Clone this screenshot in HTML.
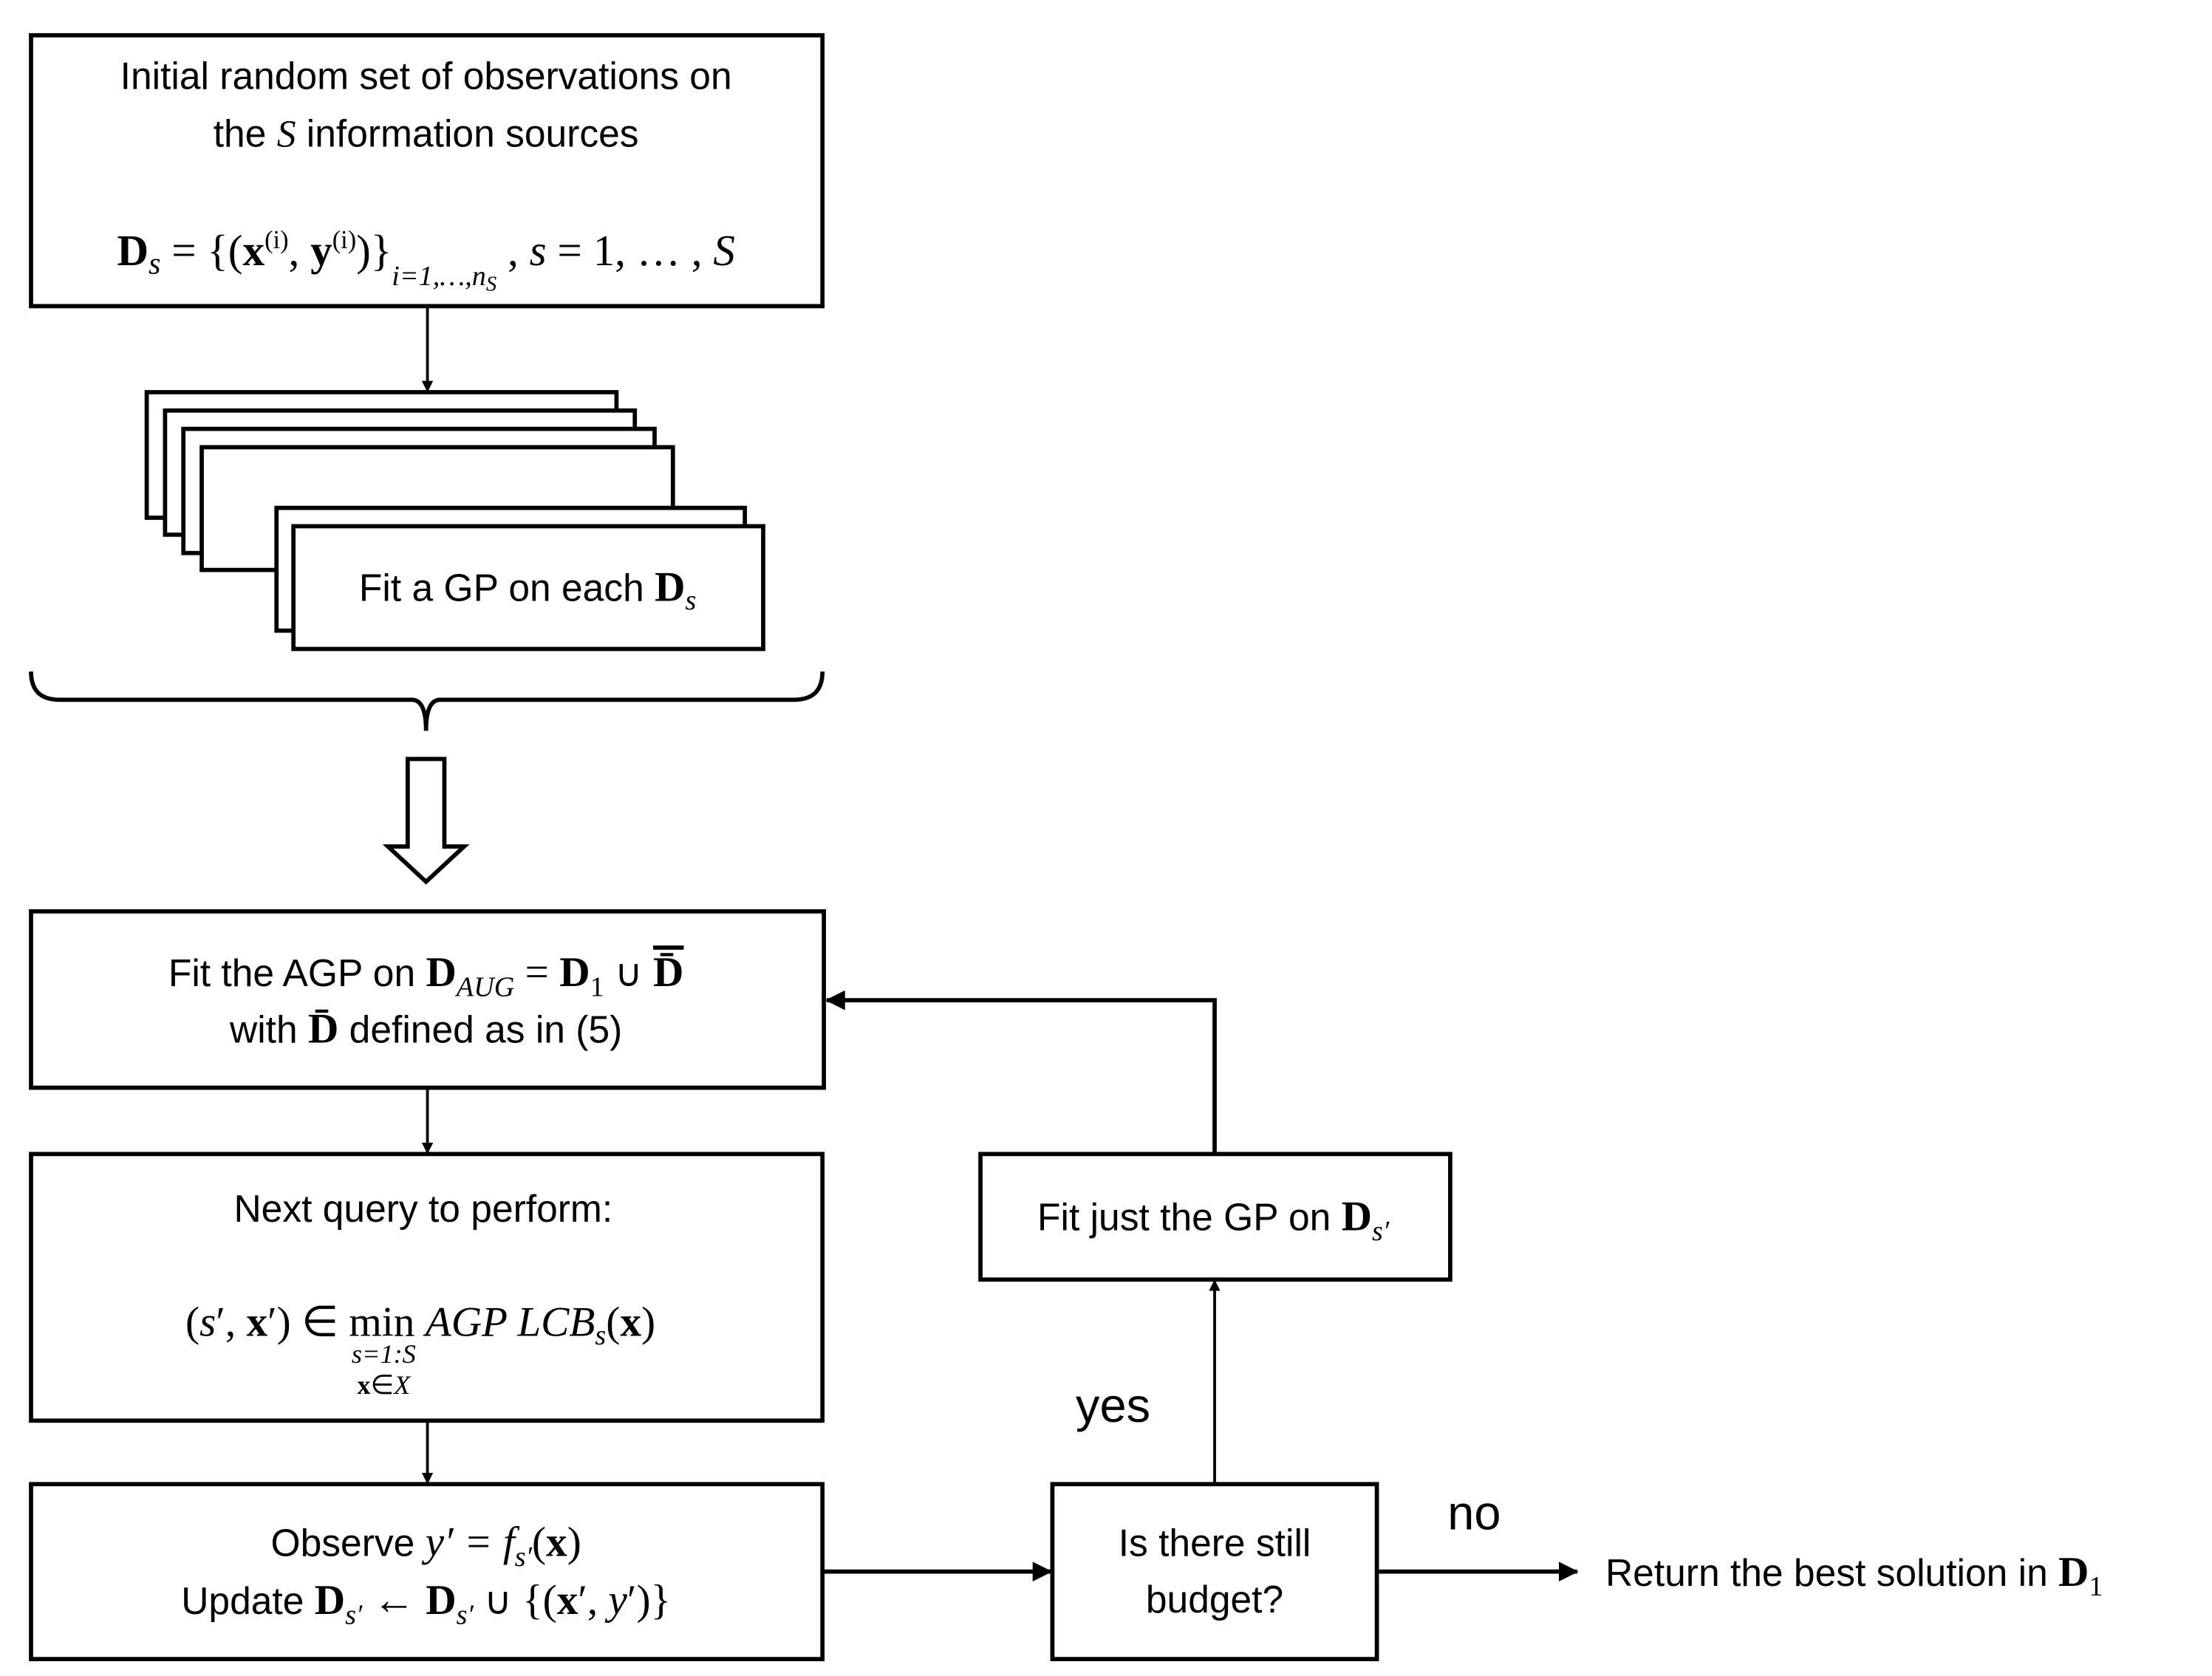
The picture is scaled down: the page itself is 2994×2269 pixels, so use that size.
<!DOCTYPE html>
<html><head><meta charset="utf-8"><style>
html,body{margin:0;padding:0;background:#fff;}
svg{display:block;}
text{font-family:"Liberation Sans",sans-serif;fill:#000;}
.m{font-family:"Liberation Serif",serif;}
</style></head><body>
<svg width="2994" height="2269" viewBox="0 0 1568 1188" preserveAspectRatio="none" xmlns="http://www.w3.org/2000/svg">
<defs>
<marker id="ah" markerWidth="8" markerHeight="8" refX="7" refY="4" orient="auto" markerUnits="userSpaceOnUse">
<path d="M0,0 L8,4 L0,8 z" fill="#000"/></marker>
<marker id="ah2" markerWidth="14" markerHeight="14" refX="13" refY="7" orient="auto" markerUnits="userSpaceOnUse">
<path d="M0,0 L14,7 L0,14 z" fill="#000"/></marker>
</defs>
<g fill="#fff" stroke="#000" stroke-width="3">
<rect x="22" y="25" width="561" height="192"/>
<rect x="104" y="278" width="333" height="89"/>
<rect x="117" y="291" width="333" height="88"/>
<rect x="130" y="304" width="334" height="88"/>
<rect x="143" y="317" width="334" height="87"/>
<rect x="196" y="360" width="332" height="87"/>
<rect x="208" y="373" width="333" height="87"/>
<rect x="22" y="646" width="562" height="125"/>
<rect x="22" y="818" width="561" height="189"/>
<rect x="22" y="1052" width="561" height="124"/>
<rect x="746" y="1052" width="230" height="124"/>
<rect x="695" y="818" width="333" height="89"/>
</g>
<g stroke="#000" fill="none">
<line x1="303" y1="217" x2="303" y2="277" stroke-width="2" marker-end="url(#ah)"/>
<path d="M22,476 Q22,496 42,496 L292,496 Q302,496 302,518 Q302,496 312,496 L563,496 Q583,496 583,476" stroke-width="3"/>
<path d="M289,538 L315,538 L315,600 L329,600 L302,625 L275,600 L289,600 Z" stroke-width="3"/>
<line x1="303" y1="771" x2="303" y2="817" stroke-width="2" marker-end="url(#ah)"/>
<line x1="303" y1="1007" x2="303" y2="1051" stroke-width="2" marker-end="url(#ah)"/>
<line x1="583" y1="1114" x2="745" y2="1114" stroke-width="3" marker-end="url(#ah2)"/>
<line x1="976" y1="1114" x2="1118" y2="1114" stroke-width="3" marker-end="url(#ah2)"/>
<line x1="861" y1="1052" x2="861" y2="908" stroke-width="2" marker-end="url(#ah)"/>
<path d="M861,818 L861,709 L586,709" stroke-width="3" marker-end="url(#ah2)"/>
</g>
<g font-size="27" text-anchor="middle">
<text x="302" y="63">Initial random set of observations on</text>
<text x="302" y="104">the <tspan class="m" font-style="italic">S</tspan> information sources</text>
<text x="302" y="188" class="m" font-size="31"><tspan font-weight="bold">D</tspan><tspan font-style="italic" font-size="22" dy="6">s</tspan><tspan dy="-6"> = {(</tspan><tspan font-weight="bold">x</tspan><tspan font-size="18" dy="-12">(i)</tspan><tspan dy="12">, </tspan><tspan font-weight="bold">y</tspan><tspan font-size="18" dy="-12">(i)</tspan><tspan dy="12">)}</tspan><tspan font-size="20" font-style="italic" dy="14">i=1,…,n</tspan><tspan font-size="15" font-style="italic" dy="4">S</tspan><tspan dy="-18"> , </tspan><tspan font-style="italic">s</tspan> = 1, … , <tspan font-style="italic">S</tspan></text>
<text x="374" y="426">Fit a GP on each <tspan class="m" font-weight="bold" font-size="30">D</tspan><tspan class="m" font-style="italic" font-size="20" dy="6">s</tspan></text>
<text x="302" y="699">Fit the AGP on <tspan class="m" font-weight="bold" font-size="30">D</tspan><tspan class="m" font-style="italic" font-size="20" dy="7">AUG</tspan><tspan class="m" dy="-7" font-size="30"> =  </tspan><tspan class="m" font-weight="bold" font-size="30">D</tspan><tspan class="m" font-size="20" dy="7">1</tspan><tspan dy="-7"> ∪ </tspan><tspan class="m" font-weight="bold" font-size="30" text-decoration="overline">D̄</tspan></text>
<text x="302" y="739">with <tspan class="m" font-weight="bold" font-size="30">D̄</tspan> defined as in (5)</text>
<text x="300" y="866">Next query to perform:</text>
<text x="298" y="947" class="m" font-size="30">(<tspan font-style="italic">s</tspan>′, <tspan font-weight="bold">x</tspan>′) ∈ min <tspan font-style="italic">AGP LCB</tspan><tspan font-style="italic" font-size="20" dy="6">s</tspan><tspan dy="-6">(</tspan><tspan font-weight="bold">x</tspan>)</text>
<text x="272" y="966" class="m" font-size="19" font-style="italic">s=1:S</text>
<text x="272" y="988" class="m" font-size="19"><tspan font-weight="bold">x</tspan>∈<tspan font-style="italic">X</tspan></text>
<text x="302" y="1103">Observe <tspan class="m" font-style="italic" font-size="30">y′ = f</tspan><tspan class="m" font-style="italic" font-size="20" dy="7">s′</tspan><tspan class="m" font-size="30" dy="-7">(</tspan><tspan class="m" font-weight="bold" font-size="30">x</tspan><tspan class="m" font-size="30">)</tspan></text>
<text x="302" y="1144">Update <tspan class="m" font-weight="bold" font-size="30">D</tspan><tspan class="m" font-style="italic" font-size="20" dy="7">s′</tspan><tspan class="m" font-size="30" dy="-7"> ← </tspan><tspan class="m" font-weight="bold" font-size="30">D</tspan><tspan class="m" font-style="italic" font-size="20" dy="7">s′</tspan><tspan dy="-7"> ∪ </tspan><tspan class="m" font-size="30">{(</tspan><tspan class="m" font-weight="bold" font-size="30">x</tspan><tspan class="m" font-size="30">′, </tspan><tspan class="m" font-style="italic" font-size="30">y</tspan><tspan class="m" font-size="30">′)}</tspan></text>
<text x="861" y="1103">Is there still</text>
<text x="861" y="1143">budget?</text>
<text x="860" y="872">Fit just the GP on <tspan class="m" font-weight="bold" font-size="30">D</tspan><tspan class="m" font-style="italic" font-size="20" dy="7">s′</tspan></text>
<text x="789" y="1008" font-size="34">yes</text>
<text x="1045" y="1084" font-size="34">no</text>
</g>
<text x="1138" y="1124" font-size="27">Return the best solution in <tspan class="m" font-weight="bold" font-size="30">D</tspan><tspan class="m" font-size="20" dy="7">1</tspan></text>
</svg>
</body></html>
